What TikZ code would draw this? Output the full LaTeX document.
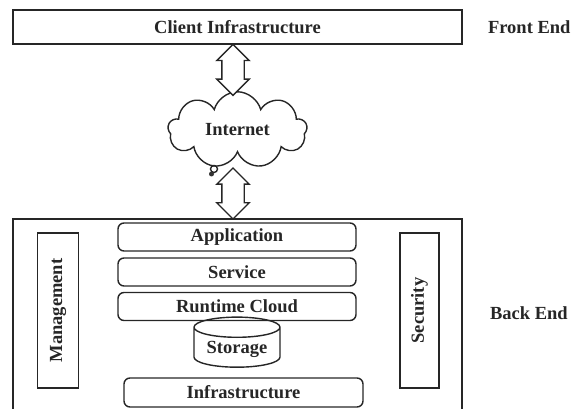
\documentclass[tikz,border=0pt]{standalone}
\usepackage{fontspec}
\setmainfont{Liberation Serif}
\usetikzlibrary{shapes.symbols,shapes.arrows,shapes.geometric,calc}
\tikzset{
  layer/.style={draw,rounded corners=6pt,minimum width=238pt,minimum height=28pt},
  sidebox/.style={draw,rotate=90,minimum width=155pt,minimum height=41pt},
  pipe/.style={double arrow,draw,fill=white,rotate=90,inner sep=10.5pt,double arrow head extend=5pt,minimum height=51pt},
}
\begin{document}
\begin{tikzpicture}[x=1pt,y=-1pt,line width=1.4pt,draw=black!85,text=black!85,
  font=\fontsize{18.5}{22}\selectfont\bfseries]
  \useasboundingbox (0,0) rectangle (574,409);
  % front end
  \node[draw,minimum width=449pt,minimum height=34pt] (client) at (237.5,27) {Client Infrastructure};
  \node[anchor=west] (front) at (484,27) {Front End};
  \node[cloud,draw,cloud puffs=9,aspect=1.9,minimum width=139pt,minimum height=74pt] (net) at (237.5,130) {Internet};
  \draw (214,169) circle (3.5);
  \fill[black!80] (211.5,174) circle (2.5);
  \coordinate (t1) at (233,95);
  \coordinate (t2) at (233,168);
  \node[pipe] (link1) at ($(client.south-|t1)!.5!(t1)$) {};
  % back end
  \draw (13,409) |- (462,219) -- (462,409);
  \coordinate (b2) at (233,219);
  \node[pipe] (link2) at ($(t2)!.5!(b2)$) {};
  \node[sidebox] (mgmt) at (58,310.5) {Management};
  \node[sidebox,minimum height=39pt] (sec) at (419.5,310.5) {Security};
  \node[layer] (app) at (237,237) {Application};
  \node[layer] (svc) at (237,272) {Service};
  \node[layer] (run) at (237,306.5) {Runtime Cloud};
  \node[draw,cylinder,shape border rotate=90,aspect=0.3,minimum width=86pt,minimum height=49pt] (store) at (237,349.5) {Storage};
  \node[layer,minimum width=239pt,minimum height=29pt] (infra) at (243.5,392.5) {Infrastructure};
  \node[anchor=west] (back) at (486,313) {Back End};
\end{tikzpicture}
\end{document}
